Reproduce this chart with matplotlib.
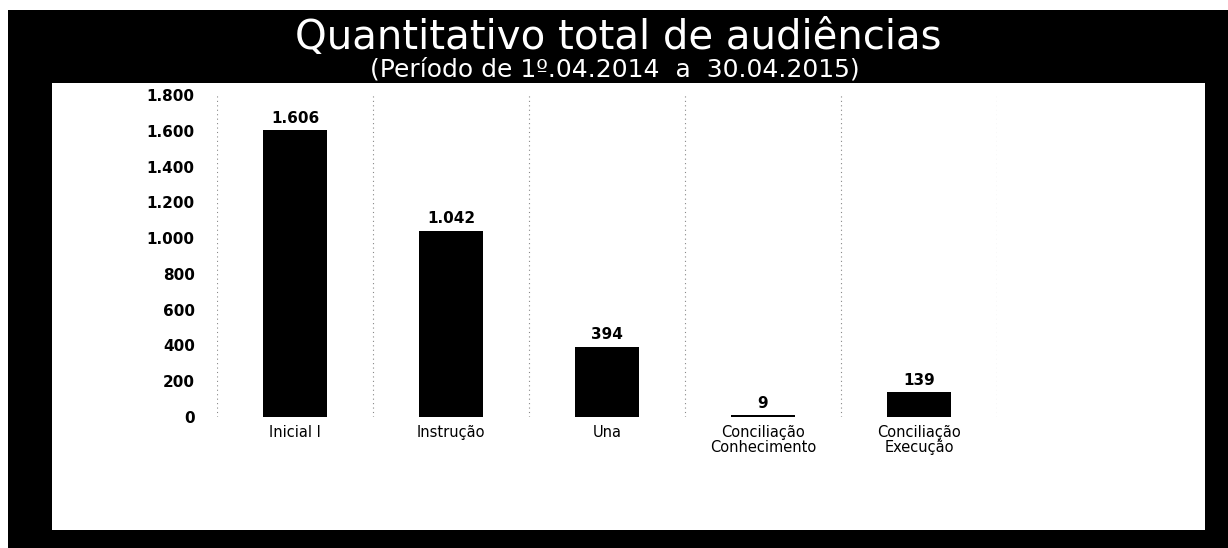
import matplotlib
matplotlib.use("Agg")
import matplotlib.pyplot as plt
import matplotlib.patches as patches

# Dados do gráfico
categorias = ["Inicial I", "Instrução", "Una", "Conciliação\nConhecimento", "Conciliação\nExecução"]
valores = [1606, 1042, 394, 9, 139]
ticks_y = [0, 200, 400, 600, 800, 1000, 1200, 1400, 1600, 1800]

titulo = "Quantitativo total de audiências"
subtitulo = "(Período de 1º.04.2014  a  30.04.2015)"


def fmt(v):
    return f"{v:,}".replace(",", ".")


W, H = 1228, 548
fig = plt.figure(figsize=(W / 100, H / 100), dpi=100)
fig.patch.set_facecolor("white")

# moldura preta e painel branco (posições em pixels)
fig.patches.append(patches.Rectangle((8 / W, 0), 1 - 8 / W, 1 - 10 / H,
                                     transform=fig.transFigure, facecolor="black",
                                     edgecolor="none", zorder=0))
fig.patches.append(patches.Rectangle((52 / W, 1 - 530 / H), (1205 - 52) / W, (530 - 83) / H,
                                     transform=fig.transFigure, facecolor="white",
                                     edgecolor="none", zorder=1))

fig.text(618 / W, 1 - 49 / H, titulo, color="white", ha="center", va="baseline",
         fontsize=29)
fig.text(615 / W, 1 - 77 / H, subtitulo, color="white", ha="center", va="baseline",
         fontsize=18)

ax = fig.add_axes([217 / W, 1 - 417 / H, (997 - 217) / W, (417 - 95) / H])
ax.set_facecolor("none")
ax.set_zorder(2)

x = list(range(len(categorias)))
barras = ax.bar(x, valores, width=0.41, color="black", zorder=3)
for b, v in zip(barras, valores):
    ax.annotate(fmt(v), (b.get_x() + b.get_width() / 2, v), xytext=(0, 3),
                textcoords="offset points", ha="center", va="bottom",
                fontsize=11, fontweight="bold")

# linhas pontilhadas entre categorias
for xv in [i - 0.5 for i in range(len(categorias) + 1)]:
    ax.axvline(xv, color="#888888", linestyle=(0, (1, 3)), linewidth=0.8, zorder=1)

ax.set_xlim(-0.5, len(categorias) - 0.5)
ax.set_ylim(0, 1800)
ax.set_yticks(ticks_y)
ax.set_yticklabels([fmt(t) for t in ticks_y], fontsize=11, fontweight="bold")
ax.set_xticks(x)
ax.set_xticklabels(categorias, fontsize=10.5, linespacing=1.0)
ax.tick_params(axis="y", length=0, pad=16)
ax.tick_params(axis="x", length=0, pad=6)
for s in ax.spines.values():
    s.set_visible(False)

fig.savefig("out.png", dpi=100, facecolor=fig.get_facecolor())
